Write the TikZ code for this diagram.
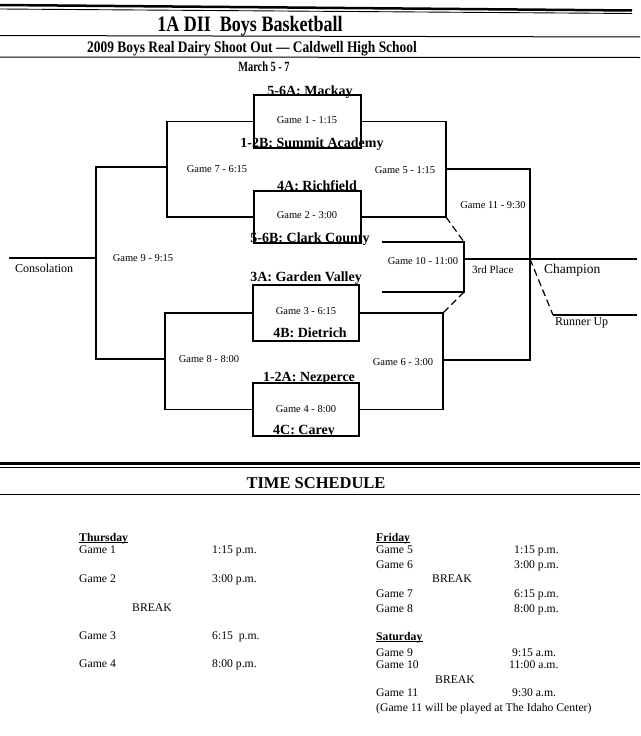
\documentclass[tikz,border=0pt]{standalone}
\usepackage{fontspec}
\usepackage{graphicx}
\setmainfont{Liberation Serif}
\usetikzlibrary{calc}
\begin{document}
\begin{tikzpicture}[x=1pt,y=-1pt,
  bl/.style={line width=1.2pt},
  rule/.style={line width=1pt},
  gbox/.style={draw,line width=1.4pt,minimum width=107pt,minimum height=53pt,inner sep=0pt},
  team/.style={font=\bfseries\fontsize{14}{16}\selectfont,inner sep=0pt,anchor=base},
  gm/.style={font=\fontsize{10.5}{12}\selectfont,inner sep=0pt,anchor=base},
  lab/.style={font=\fontsize{12}{14}\selectfont,inner sep=0pt,anchor=base west},
  sch/.style={font=\fontsize{11.7}{13}\selectfont,inner sep=0pt,anchor=base west},
  day/.style={sch,font=\bfseries\fontsize{11.7}{13}\selectfont},
  uline/.style={line width=0.7pt},
  dsh/.style={line width=1.2pt,dash pattern=on 7pt off 4pt}]
\useasboundingbox (0,0) rectangle (640,736);
% header rules
\draw[line width=2.5pt] (0,5) -- (632,10.5);
\draw[line width=0.9pt] (0,9) -- (632,13.5);
\draw[rule] (0,35.5) -- (640,37);
\draw[rule] (0,57) -- (640,57.5);
\node[inner sep=0pt,anchor=base,font=\bfseries\fontsize{22}{24}\selectfont] (title) at (250,31) {\scalebox{0.82}[1]{1A DII\ \ Boys Basketball}};
\node[inner sep=0pt,anchor=base,font=\bfseries\fontsize{16}{18}\selectfont] (sub) at (252,52) {\scalebox{0.84}[1]{2009 Boys Real Dairy Shoot Out --- Caldwell High School}};
\node[inner sep=0pt,anchor=base,font=\bfseries\fontsize{14}{16}\selectfont] (date) at (264,71) {\scalebox{0.74}[1]{March 5 - 7}};
% game boxes
\node[gbox] (b1) at (307.5,121.5) {};
\node[gbox,minimum height=52pt] (b2) at (307.5,217) {};
\node[gbox,minimum width=106pt,minimum height=56pt] (b3) at (306,313) {};
\node[gbox,minimum width=106pt,minimum height=53pt] (b4) at (306,409.5) {};
% teams
\node[team] (t1) at (310,95) {5-6A: Mackay};
\node[team] (t2) at (312,147.5) {1-2B: Summit Academy};
\node[team] (t3) at (317,190.5) {4A: Richfield};
\node[team] (t4) at (310,242.5) {5-6B: Clark County};
\node[team] (t5) at (306,281) {3A: Garden Valley};
\node[team] (t6) at (310,337) {4B: Dietrich};
\node[team] (t7) at (309,381) {1-2A: Nezperce};
\node[team] (t8) at (304,434) {4C: Carey};
% game labels
\node[gm] (g1) at (307,123) {Game 1 - 1:15};
\node[gm] (g2) at (307,218) {Game 2 - 3:00};
\node[gm] (g3) at (306,314) {Game 3 - 6:15};
\node[gm] (g4) at (306,412) {Game 4 - 8:00};
\node[gm] (g5) at (405,173) {Game 5 - 1:15};
\node[gm] (g6) at (403,365) {Game 6 - 3:00};
\node[gm] (g7) at (217,172) {Game 7 - 6:15};
\node[gm] (g8) at (209,362) {Game 8 - 8:00};
\node[gm] (g9) at (143,261) {Game 9 - 9:15};
\node[gm] (g10) at (423,264) {Game 10 - 11:00};
\node[gm] (g11) at (493,208) {Game 11 - 9:30};
\node[gm,font=\fontsize{11}{13}\selectfont,anchor=base west] (third) at (472,273) {3rd Place};
\node[lab] (cons) at (15,272) {Consolation};
\node[lab,font=\fontsize{13.5}{15}\selectfont] (champ) at (544,273) {Champion};
\node[lab] (runner) at (555,325) {Runner Up};
% bracket coordinates
\coordinate (L7) at (167,0);
\coordinate (L8) at (165,0);
\coordinate (L9) at (96,0);
\coordinate (R5) at (446,0);
\coordinate (R6) at (443,0);
\coordinate (R10) at (464,0);
\coordinate (R11) at (530,0);
\coordinate (w7) at (167,167);
\coordinate (w8) at (165,359);
\coordinate (w9) at (96,258);
\coordinate (consL) at (9,258);
\coordinate (w5) at (446,169);
\coordinate (w6) at (443,360);
\coordinate (w10) at (464,259);
\coordinate (w11) at (530,259);
\coordinate (champR) at (637,259);
\coordinate (ruL) at (553,315);
\coordinate (ruR) at (637,315);
\coordinate (t10a) at (382,242);
\coordinate (t10b) at (382,292);
% left side
\draw[bl] (b1.west) -- (b1.west -| L7) -- (b2.west -| L7) -- (b2.west);
\draw[bl] (b3.west) -- (b3.west -| L8) -- (b4.west -| L8) -- (b4.west);
\draw[bl] (w7) -- (w7 -| L9) -- (w8 -| L9) -- (w8);
\draw[bl] (w9) -- (consL);
% right side
\draw[bl] (b1.east) -- (b1.east -| R5) -- (b2.east -| R5) -- (b2.east);
\draw[bl] (b3.east) -- (b3.east -| R6) -- (b4.east -| R6) -- (b4.east);
\draw[bl] (w5) -- (w5 -| R11) -- (w6 -| R11) -- (w6);
\draw[bl] (t10a) -- (t10a -| R10) -- (t10b -| R10) -- (t10b);
\draw[bl] (w10) -- (w11) -- (champR);
\draw[dsh] (b2.east -| R5) -- (t10a -| R10);
\draw[dsh] (t10b -| R10) -- (b3.east -| R6);
\draw[dsh] (w11) -- (ruL);
\draw[bl] (ruL) -- (ruR);
% separator
\draw[line width=2.5pt] (0,463.5) -- (640,463.5);
\draw[line width=0.9pt] (0,467.5) -- (640,467.5);
\draw[rule] (0,494) -- (640,494);
\node[inner sep=0pt,anchor=base,font=\bfseries\fontsize{16.5}{18}\selectfont] (ts) at (316,488) {TIME SCHEDULE};
% schedule left
\node[day] (thu) at (79,541) {Thursday};
\draw[uline] ($(thu.base west)+(0,1.8)$) -- ($(thu.base east)+(0,1.8)$);
\node[sch] (s1) at (79,553) {Game 1};
\node[sch] (s1t) at (212,553) {1:15 p.m.};
\node[sch] (s2) at (79,582) {Game 2};
\node[sch] (s2t) at (212,582) {3:00 p.m.};
\node[sch] (sbr1) at (132,611) {BREAK};
\node[sch] (s3) at (79,639) {Game 3};
\node[sch] (s3t) at (212,639) {6:15\ \ p.m.};
\node[sch] (s4) at (79,667) {Game 4};
\node[sch] (s4t) at (212,667) {8:00 p.m.};
% schedule right
\node[day] (fri) at (376,541) {Friday};
\draw[uline] ($(fri.base west)+(0,1.8)$) -- ($(fri.base east)+(0,1.8)$);
\node[sch] (s5) at (376,553) {Game 5};
\node[sch] (s5t) at (514,553) {1:15 p.m.};
\node[sch] (s6) at (376,568) {Game 6};
\node[sch] (s6t) at (514,568) {3:00 p.m.};
\node[sch] (sbr2) at (432,582) {BREAK};
\node[sch] (s7) at (376,597) {Game 7};
\node[sch] (s7t) at (514,597) {6:15 p.m.};
\node[sch] (s8) at (376,612) {Game 8};
\node[sch] (s8t) at (514,612) {8:00 p.m.};
\node[day] (sat) at (376,640) {Saturday};
\draw[uline] ($(sat.base west)+(0,1.8)$) -- ($(sat.base east)+(0,1.8)$);
\node[sch] (s9) at (376,656) {Game 9};
\node[sch] (s9t) at (512,656) {9:15 a.m.};
\node[sch] (s10) at (376,668) {Game 10};
\node[sch] (s10t) at (509,668) {11:00 a.m.};
\node[sch] (sbr3) at (435,683) {BREAK};
\node[sch] (s11) at (376,696) {Game 11};
\node[sch] (s11t) at (512,696) {9:30 a.m.};
\node[sch] (note) at (376,711) {(Game 11 will be played at The Idaho Center)};
\end{tikzpicture}
\end{document}
